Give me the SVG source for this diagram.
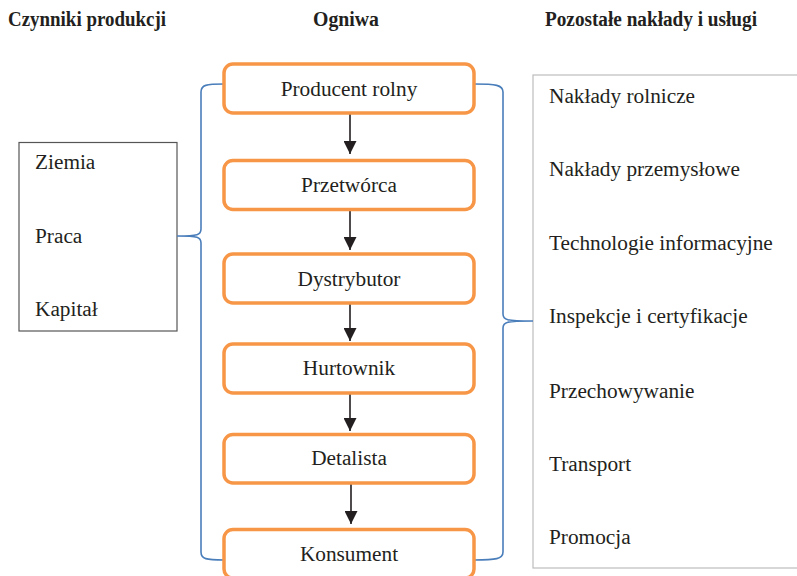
<svg xmlns="http://www.w3.org/2000/svg" width="797" height="576" viewBox="0 0 797 576">
<style>
text{font-family:"Liberation Serif","Times New Roman",serif;fill:#231f20;font-size:21.3px}
.h{font-weight:bold;font-size:20px}
.node rect{fill:#fff;stroke:#f79646;stroke-width:3.5}
.node text{text-anchor:middle}
.brace{fill:none;stroke:#4a7ebb;stroke-width:1.6}
.arrow{stroke:#231f20;stroke-width:1.6;fill:none}
</style>
<defs>
<marker id="arr" markerWidth="13" markerHeight="13" viewBox="0 0 13 13" refX="13" refY="6.5" orient="auto" markerUnits="userSpaceOnUse">
<path d="M0,0 L13,6.5 L0,13 Z" fill="#231f20"/>
</marker>
</defs>
<rect width="797" height="576" fill="#fff"/>
<g id="headers">
<text class="h" x="8" y="26" textLength="158" lengthAdjust="spacingAndGlyphs">Czynniki produkcji</text>
<text class="h" x="313" y="26" textLength="66" lengthAdjust="spacingAndGlyphs">Ogniwa</text>
<text class="h" x="545" y="26" textLength="212" lengthAdjust="spacingAndGlyphs">Pozostałe nakłady i usługi</text>
</g>
<g id="factors">
<rect x="19" y="142.5" width="158" height="188.5" fill="#fff" stroke="#555" stroke-width="1.2"/>
<text x="35" y="169">Ziemia</text>
<text x="35" y="243">Praca</text>
<text x="35" y="316">Kapitał</text>
</g>
<g id="services">
<rect x="533" y="75" width="280" height="493" fill="#fff" stroke="#bdbdbd" stroke-width="1.2"/>
<text x="549" y="103">Nakłady rolnicze</text>
<text x="549" y="176">Nakłady przemysłowe</text>
<text x="549" y="250">Technologie informacyjne</text>
<text x="549" y="323">Inspekcje i certyfikacje</text>
<text x="549" y="398">Przechowywanie</text>
<text x="549" y="471">Transport</text>
<text x="549" y="544">Promocja</text>
</g>
<g id="connectors">
<path class="brace" d="M224,84 C206,84 201,85 201,92 V229 C201,235 198,236 177,236 C198,236 201,237 201,243 V552 C201,559 206,560 224,560"/>
<path class="brace" d="M474,84 C496,84 503,85 503,92 V314 C503,320 506,321 533,321 C506,321 503,322 503,328 V552 C503,559 496,560 474,560"/>
<line class="arrow" x1="350" y1="114" x2="350" y2="154" marker-end="url(#arr)"/>
<line class="arrow" x1="350" y1="211" x2="350" y2="250" marker-end="url(#arr)"/>
<line class="arrow" x1="350" y1="304" x2="350" y2="341" marker-end="url(#arr)"/>
<line class="arrow" x1="350" y1="394" x2="350" y2="431" marker-end="url(#arr)"/>
<line class="arrow" x1="351" y1="484" x2="351" y2="524" marker-end="url(#arr)"/>
</g>
<g id="n1" class="node"><rect x="224" y="64" width="250" height="49" rx="9"/><text x="349" y="96">Producent rolny</text></g>
<g id="n2" class="node"><rect x="224" y="160.5" width="250" height="49" rx="9"/><text x="349" y="192">Przetwórca</text></g>
<g id="n3" class="node"><rect x="224" y="254" width="250" height="49" rx="9"/><text x="349" y="286">Dystrybutor</text></g>
<g id="n4" class="node"><rect x="224" y="344" width="250" height="49" rx="9"/><text x="349" y="375">Hurtownik</text></g>
<g id="n5" class="node"><rect x="224" y="434.5" width="250" height="48.5" rx="9"/><text x="349" y="465">Detalista</text></g>
<g id="n6" class="node"><rect x="224" y="529.5" width="250" height="48.5" rx="9"/><text x="349" y="561">Konsument</text></g>
</svg>
